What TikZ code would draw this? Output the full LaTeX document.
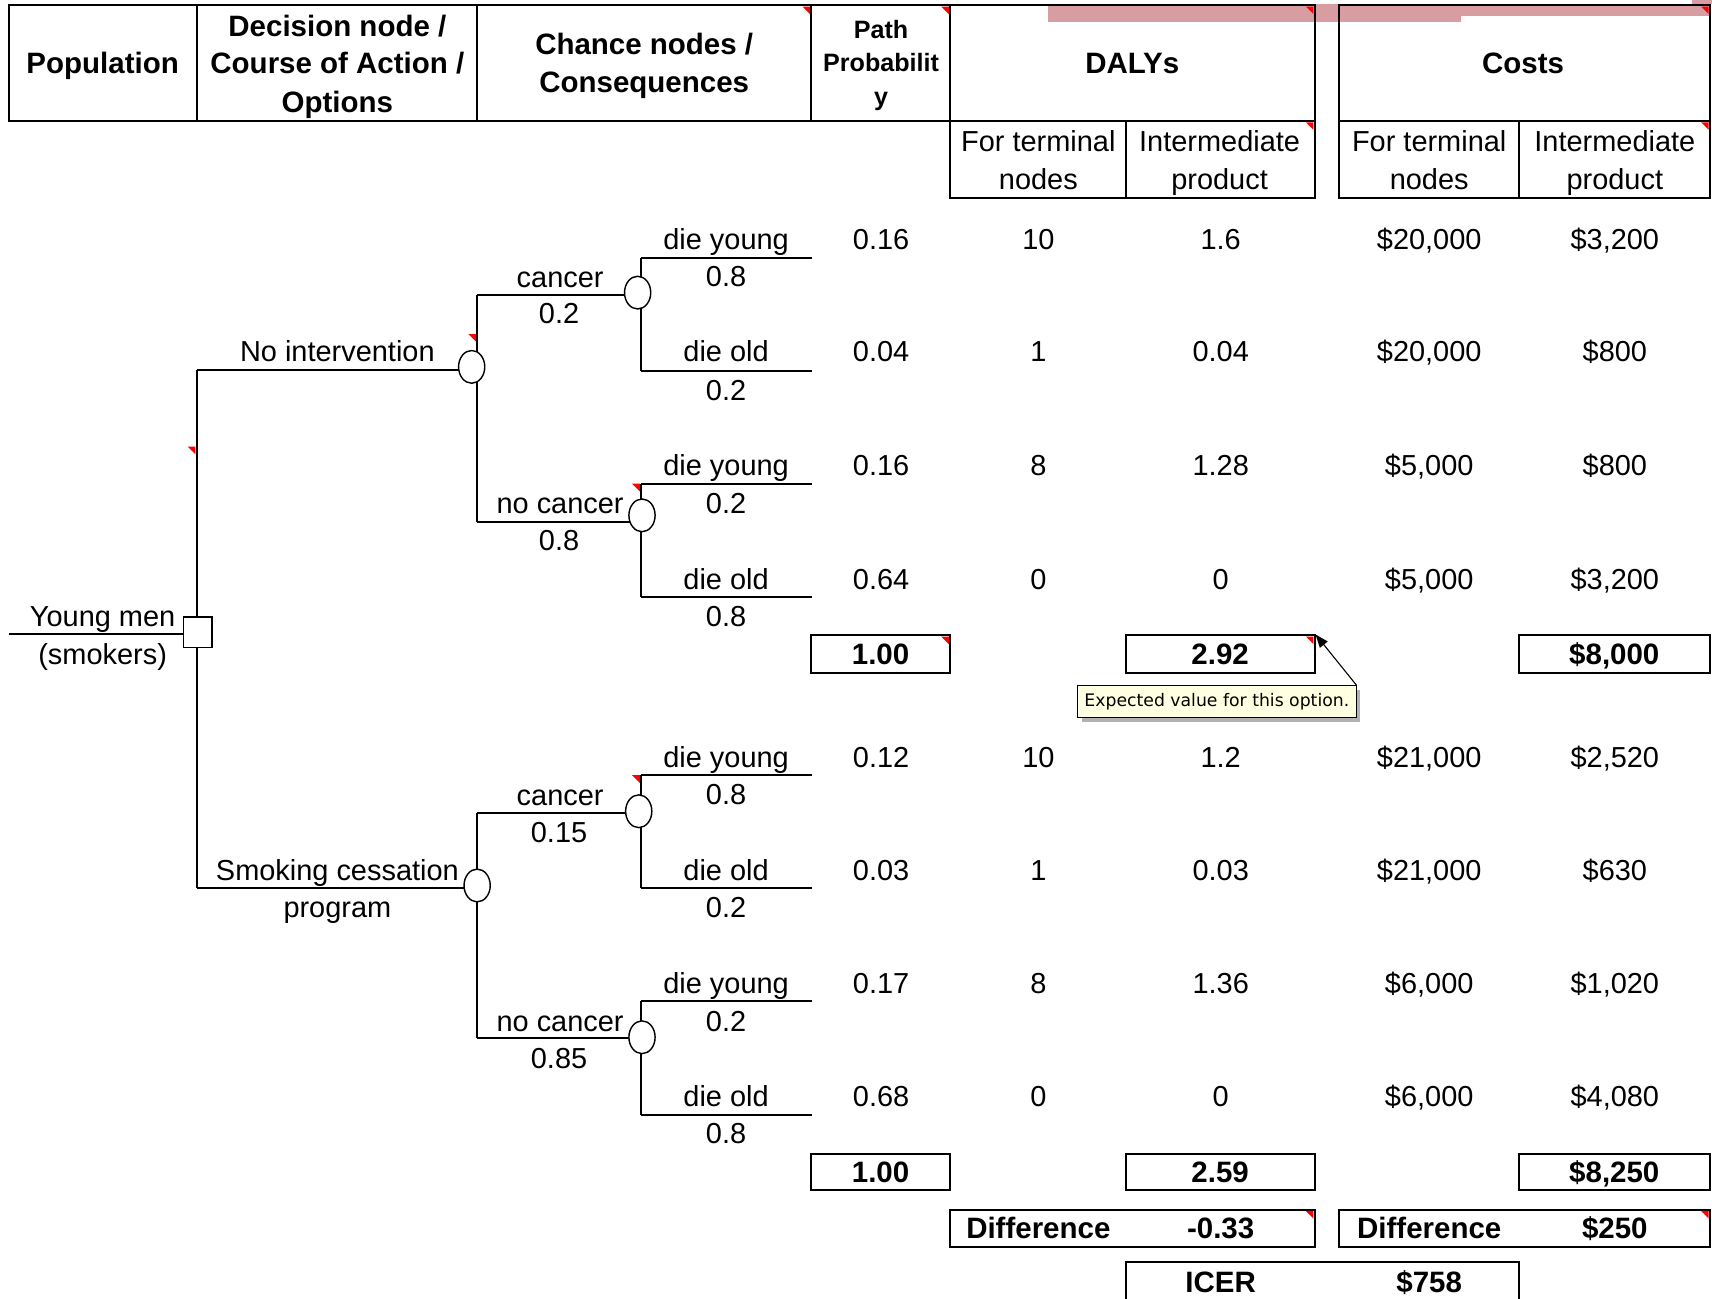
\documentclass[tikz,border=0pt]{standalone}
\usepackage{fontspec}
\setmainfont{Liberation Sans}
\newfontfamily\tipfont{DejaVu Sans}
\usetikzlibrary{shapes.geometric,arrows.meta}
\definecolor{pinkband}{RGB}{216,157,161}
\definecolor{tipfill}{RGB}{255,255,225}
\newcommand\cmt[2]{\fill[red] (#1-1,#2+1) -- ++(-7,0) -- ++(7,7) -- cycle;}
\newcommand\valrow[6]{%
 \node[txt] (pp#1) at (807,#1) {#2};
 \node[txt] (dt#1) at (951,#1) {#3};
 \node[txt] (di#1) at (1118,#1) {#4};
 \node[txt] (ct#1) at (1309,#1) {#5};
 \node[txt] (ci#1) at (1479,#1) {#6};}
\begin{document}
\begin{tikzpicture}[x=1pt,y=-1pt,
 lw/.style={line width=1.8pt},
 txt/.style={font=\fontsize{26.5}{32}\selectfont, inner sep=0pt, text height=19pt, text depth=0pt},
 hb/.style={font=\fontsize{27}{32}\selectfont\bfseries, inner sep=0pt, text height=19.5pt, text depth=0pt},
 hs/.style={font=\fontsize{23}{28}\selectfont\bfseries, inner sep=0pt, text height=16.5pt, text depth=0pt},
 cell/.style={draw, line width=1.8pt, inner sep=0pt},
 chance/.style={ellipse, draw, fill=white, line width=1.3pt, minimum width=24pt, minimum height=30pt, inner sep=0pt},
 decision/.style={rectangle, draw, fill=white, line width=1.3pt, minimum width=26pt, minimum height=28pt, inner sep=0pt},
 tip/.style={draw, line width=0.8pt, fill=tipfill, inner sep=0pt, minimum width=255pt, minimum height=29pt, font=\tipfont\fontsize{15.8}{18}\selectfont}
]
\useasboundingbox (0,0) rectangle (1568,1189);
\fill[white] (0,0) rectangle (1568,1189);
% pink band
\fill[pinkband] (960,4) rectangle (1338,20);
\fill[pinkband] (1338,4) rectangle (1566,14.5);
\fill[pinkband] (1550,0) rectangle (1568,4);
% header cells
\node[cell, minimum width=172pt, minimum height=106pt] (hpop) at (94,58) {};
\node[cell, minimum width=257pt, minimum height=106pt] (hdec) at (308.5,58) {};
\node[cell, minimum width=306pt, minimum height=106pt] (hcha) at (590,58) {};
\node[cell, minimum width=127pt, minimum height=106pt] (hpat) at (806.5,58) {};
\node[cell, minimum width=334pt, minimum height=106pt] (hdal) at (1037,58) {};
\node[cell, minimum width=340pt, minimum height=106pt] (hcos) at (1396,58) {};
\node[cell, minimum width=161pt, minimum height=70pt] (sdt) at (950.5,146) {};
\node[cell, minimum width=173pt, minimum height=70pt] (sdi) at (1117.5,146) {};
\node[cell, minimum width=165pt, minimum height=70pt] (sct) at (1308.5,146) {};
\node[cell, minimum width=175pt, minimum height=70pt] (sci) at (1478.5,146) {};
% header texts
\node[hb] (tpop) at (94,58) {Population};
\node[hb] (tdec1) at (309,24) {Decision node /};
\node[hb] (tdec2) at (309,58) {Course of Action /};
\node[hb] (tdec3) at (309,93) {Options};
\node[hb] (tcha1) at (590,40) {Chance nodes /};
\node[hb] (tcha2) at (590,75) {Consequences};
\node[hs] (tpat1) at (807,27) {Path};
\node[hs] (tpat2) at (807,57) {Probabilit};
\node[hs] (tpat3) at (807,88) {y};
\node[hb] (tdal) at (1037,58) {DALYs};
\node[hb] (tcos) at (1395,58) {Costs};
\node[txt] (tsdt1) at (951,129) {For terminal};
\node[txt] (tsdt2) at (951,164) {nodes};
\node[txt] (tsdi1) at (1117,129) {Intermediate};
\node[txt] (tsdi2) at (1117,164) {product};
\node[txt] (tsct1) at (1309,129) {For terminal};
\node[txt] (tsct2) at (1309,164) {nodes};
\node[txt] (tsci1) at (1479,129) {Intermediate};
\node[txt] (tsci2) at (1479,164) {product};
% ---------------- tree
\coordinate (dtop) at (180,339);
\coordinate (dbot) at (180,813);
\coordinate (rootL) at (8,581);
\draw[lw] (dtop) -- (dbot);
\node[decision] (dec) at (181,579) {};
\draw[lw] (rootL) -- (rootL -| dec.west);
% option 1
\coordinate (o1) at (437,339);
\coordinate (o1u) at (437,270);
\coordinate (o1d) at (437,478);
\draw[lw] (dtop) -- (o1);
\draw[lw] (o1u) -- (o1d);
\node[chance] (c1) at (432,336) {};
\coordinate (c11j) at (587,270);
\coordinate (c11u) at (587,236);
\coordinate (c11d) at (587,340);
\coordinate (e1) at (744,236);
\coordinate (e2) at (744,340);
\draw[lw] (o1u) -- (c11j);
\draw[lw] (c11u) -- (c11d);
\draw[lw] (c11u) -- (e1);
\draw[lw] (c11d) -- (e2);
\node[chance] (c11) at (584,268) {};
\coordinate (c12j) at (587,478);
\coordinate (c12u) at (587,443);
\coordinate (c12d) at (587,547);
\coordinate (e3) at (744,443);
\coordinate (e4) at (744,547);
\draw[lw] (o1d) -- (c12j);
\draw[lw] (c12u) -- (c12d);
\draw[lw] (c12u) -- (e3);
\draw[lw] (c12d) -- (e4);
\node[chance] (c12) at (588,472) {};
% option 2
\coordinate (o2) at (437,813);
\coordinate (o2u) at (437,745);
\coordinate (o2d) at (437,951);
\draw[lw] (dbot) -- (o2);
\draw[lw] (o2u) -- (o2d);
\node[chance] (c2) at (437,811) {};
\coordinate (c21j) at (587,745);
\coordinate (c21u) at (587,710);
\coordinate (c21d) at (587,813);
\coordinate (e5) at (744,710);
\coordinate (e6) at (744,813);
\draw[lw] (o2u) -- (c21j);
\draw[lw] (c21u) -- (c21d);
\draw[lw] (c21u) -- (e5);
\draw[lw] (c21d) -- (e6);
\node[chance] (c21) at (585,743) {};
\coordinate (c22j) at (587,951);
\coordinate (c22u) at (587,917);
\coordinate (c22d) at (587,1021);
\coordinate (e7) at (744,917);
\coordinate (e8) at (744,1021);
\draw[lw] (o2d) -- (c22j);
\draw[lw] (c22u) -- (c22d);
\draw[lw] (c22u) -- (e7);
\draw[lw] (c22d) -- (e8);
\node[chance] (c22) at (588,950) {};
% tree labels
\node[txt] (lym) at (94,564) {Young men};
\node[txt] (lsm) at (94,599) {(smokers)};
\node[txt] (lni) at (309,322) {No intervention};
\node[txt] (l11a) at (513,254) {cancer};
\node[txt] (l11b) at (512,287) {0.2};
\node[txt] (l111a) at (665,219) {die young};
\node[txt] (l111b) at (665,253) {0.8};
\node[txt] (l112a) at (665,322) {die old};
\node[txt] (l112b) at (665,357) {0.2};
\node[txt] (l12a) at (513,461) {no cancer};
\node[txt] (l12b) at (512,495) {0.8};
\node[txt] (l121a) at (665,426) {die young};
\node[txt] (l121b) at (665,461) {0.2};
\node[txt] (l122a) at (665,530) {die old};
\node[txt] (l122b) at (665,564) {0.8};
\node[txt] (lsc1) at (309,797) {Smoking cessation};
\node[txt] (lsc2) at (309,831) {program};
\node[txt] (l21a) at (513,728) {cancer};
\node[txt] (l21b) at (512,762) {0.15};
\node[txt] (l211a) at (665,693) {die young};
\node[txt] (l211b) at (665,727) {0.8};
\node[txt] (l212a) at (665,797) {die old};
\node[txt] (l212b) at (665,831) {0.2};
\node[txt] (l22a) at (513,935) {no cancer};
\node[txt] (l22b) at (512,969) {0.85};
\node[txt] (l221a) at (665,900) {die young};
\node[txt] (l221b) at (665,935) {0.2};
\node[txt] (l222a) at (665,1004) {die old};
\node[txt] (l222b) at (665,1038) {0.8};
% values
\valrow{219}{0.16}{10}{1.6}{\$20,000}{\$3,200}
\valrow{322}{0.04}{1}{0.04}{\$20,000}{\$800}
\valrow{426}{0.16}{8}{1.28}{\$5,000}{\$800}
\valrow{530}{0.64}{0}{0}{\$5,000}{\$3,200}
\valrow{693}{0.12}{10}{1.2}{\$21,000}{\$2,520}
\valrow{797}{0.03}{1}{0.03}{\$21,000}{\$630}
\valrow{900}{0.17}{8}{1.36}{\$6,000}{\$1,020}
\valrow{1004}{0.68}{0}{0}{\$6,000}{\$4,080}
% sum boxes
\node[cell, minimum width=127pt, minimum height=34pt] (sp1) at (806.5,599) {};
\node[cell, minimum width=173pt, minimum height=34pt] (sd1) at (1117.5,599) {};
\node[cell, minimum width=175pt, minimum height=34pt] (sc1) at (1478.5,599) {};
\node[hb] (vsp1) at (sp1) {1.00};
\node[hb] (vsd1) at (sd1) {2.92};
\node[hb] (vsc1) at (sc1) {\$8,000};
\node[cell, minimum width=127pt, minimum height=33pt] (sp2) at (806.5,1073.5) {};
\node[cell, minimum width=173pt, minimum height=33pt] (sd2) at (1117.5,1073.5) {};
\node[cell, minimum width=175pt, minimum height=33pt] (sc2) at (1478.5,1073.5) {};
\node[hb] (vsp2) at (sp2) {1.00};
\node[hb] (vsd2) at (sd2) {2.59};
\node[hb] (vsc2) at (sc2) {\$8,250};
% difference boxes
\node[cell, minimum width=334pt, minimum height=34pt] (dfd) at (1037,1125) {};
\node[cell, minimum width=340pt, minimum height=34pt] (dfc) at (1396,1125) {};
\node[hb] (tdfd1) at (951,1125) {Difference};
\node[hb] (tdfd2) at (1118,1125) {-0.33};
\node[hb] (tdfc1) at (1309,1125) {Difference};
\node[hb] (tdfc2) at (1479,1125) {\$250};
% ICER
\coordinate (ic1) at (1031,1195);
\coordinate (ic2) at (1031,1156);
\coordinate (ic3) at (1391,1156);
\coordinate (ic4) at (1391,1195);
\draw[lw] (ic1) -- (ic2) -- (ic3) -- (ic4);
\node[hb] (ticer) at (1118,1174) {ICER};
\node[hb] (ticv) at (1309,1174) {\$758};
% callout
\fill[gray!60] (991,632) rectangle (1246,661);
\node[tip] (tipbox) at (1114.5,642.5) {Expected value for this option.};
\draw[line width=1pt, -{Triangle[length=12pt,width=9pt]}] (tipbox.north east) -- (sd1.north east);
% comment markers
\cmt{743}{5}
\cmt{870}{5}
\cmt{1204}{5}
\cmt{1566}{5}
\cmt{1204}{111}
\cmt{1566}{111}
\cmt{870}{582}
\cmt{1204}{582}
\cmt{1204}{1108}
\cmt{1566}{1108}
\cmt{437}{305}
\cmt{180}{408}
\cmt{587}{442}
\cmt{587}{709}
\end{tikzpicture}
\end{document}
